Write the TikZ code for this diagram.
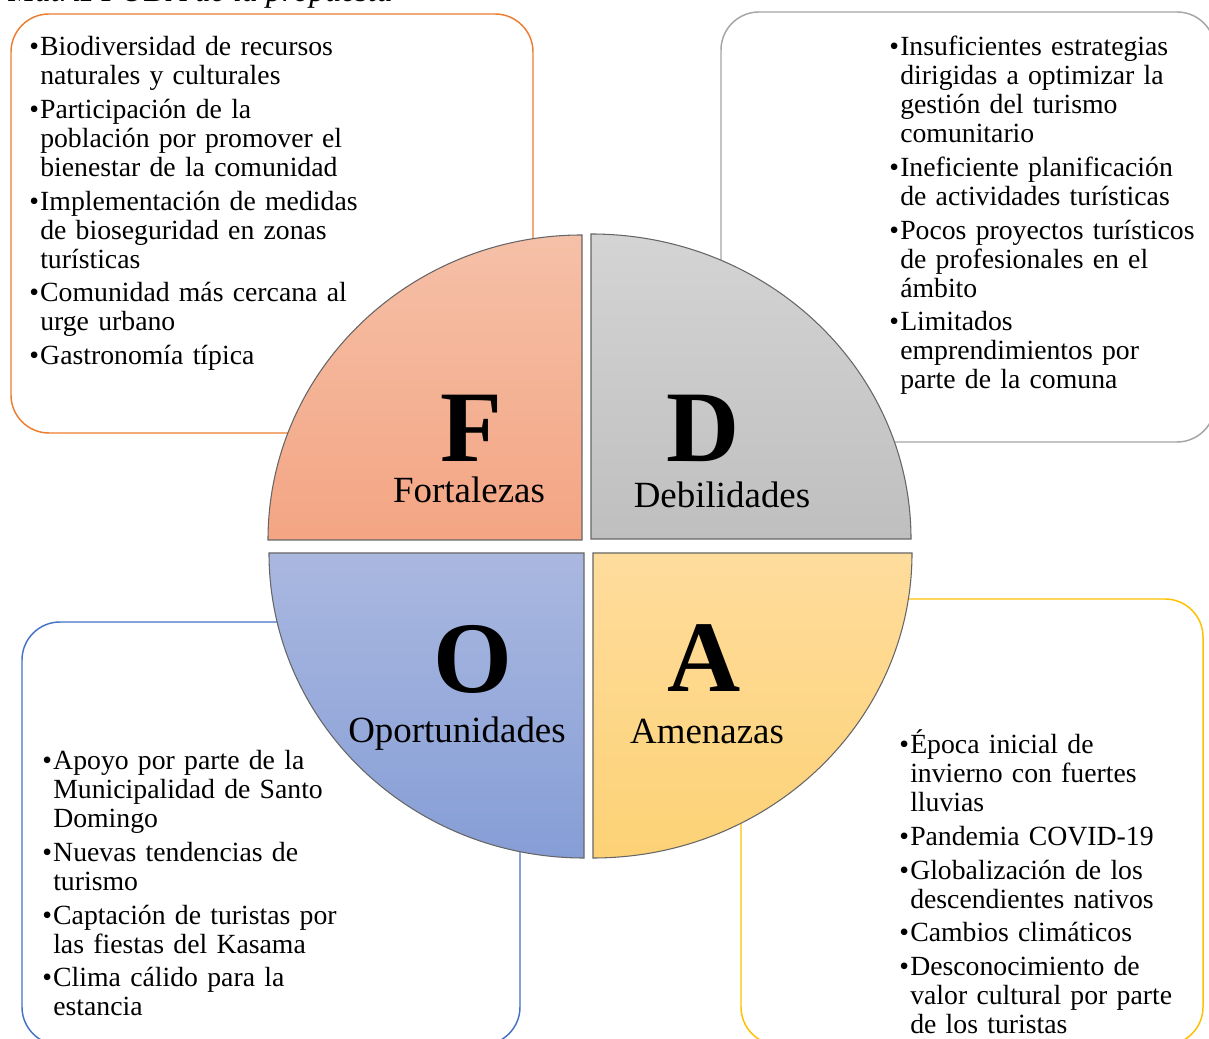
\documentclass[tikz,border=0pt]{standalone}
\usepackage{fontspec}
\setmainfont{Liberation Serif}
\definecolor{fodaorange}{HTML}{ED7D31}
\definecolor{fodagray}{HTML}{A5A5A5}
\definecolor{fodablue}{HTML}{4472C4}
\definecolor{fodagold}{HTML}{FFC000}
\definecolor{ftop}{HTML}{F5C0A8}
\definecolor{fbot}{HTML}{F4A583}
\definecolor{dtop}{HTML}{D4D4D4}
\definecolor{dbot}{HTML}{BFBFBF}
\definecolor{otop}{HTML}{AAB8E0}
\definecolor{obot}{HTML}{869ED6}
\definecolor{atop}{HTML}{FEDC9C}
\definecolor{abot}{HTML}{FDD276}
\newcommand\fodasetup{\raggedright\setlength\parskip{3.4pt}\lineskiplimit=-20pt\relax}
\newcommand\fodaitem[1]{\hangindent=8.25pt\hangafter=1\noindent\makebox[8.25pt][l]{\textbullet}#1\par}
\begin{document}
\begin{tikzpicture}[x=0.75pt,y=0.75pt,
  box/.style={line width=1.1pt,rounded corners=28.5pt},
  quad/.style={draw=black!60,line width=0.8pt},
  bigletter/.style={font=\fontsize{76}{76}\selectfont\bfseries,inner sep=0pt,anchor=base},
  quadlabel/.style={font=\fontsize{27.7}{30}\selectfont,inner sep=0pt,anchor=base},
  list/.style={inner sep=0pt,anchor=base west,text width=330pt,font=\fontsize{20.8}{21.75}\selectfont}]
\useasboundingbox (0,0) rectangle (1209,1038);
\node (title) [anchor=base west,inner sep=0pt,font=\fontsize{24}{24}\selectfont\itshape] at (8,1036.5) {Matriz FODA de la propuesta};
% boxes behind the circle
\draw[box,fodaorange] (11,605) rectangle (533,1024);
\draw[box,fodagray] (721,596) rectangle (1215,1026);
\draw[box,fodablue] (22,-7) rectangle (520,416);
\draw[box,fodagold] (741,-7) rectangle (1203,439);
% quadrants
\draw[quad,top color=ftop,bottom color=fbot] (582,498) -- ++(-314,0)
  arc[start angle=180,end angle=90,x radius=235.5pt,y radius=228.75pt] -- cycle;
\draw[quad,top color=dtop,bottom color=dbot] (591,499) -- ++(0,305)
  arc[start angle=90,end angle=0,x radius=240pt,y radius=228.75pt] -- cycle;
\draw[quad,top color=otop,bottom color=obot] (584,485) -- ++(-315,0)
  arc[start angle=180,end angle=270,x radius=236.25pt,y radius=228.75pt] -- cycle;
\draw[quad,top color=atop,bottom color=abot] (593,485) -- ++(0,-305)
  arc[start angle=270,end angle=360,x radius=239.25pt,y radius=228.75pt] -- cycle;
\node (fletter) [bigletter] at (471,576) {F};
\node (flabel) [quadlabel] at (469,535) {Fortalezas};
\node (dletter) [bigletter] at (703,576) {D};
\node (dlabel) [quadlabel] at (722,530) {Debilidades};
\node (oletter) [bigletter] at (473,345) {O};
\node (olabel) [quadlabel] at (457,295) {Oportunidades};
\node (aletter) [bigletter] at (704,346) {A};
\node (alabel) [quadlabel] at (707,294) {Amenazas};
% lists
\node (ftext) [list] at (29,982) {\fodasetup
  \fodaitem{Biodiversidad de recursos\newline naturales y culturales}
  \fodaitem{Participación de la\newline población por promover el\newline bienestar de la comunidad}
  \fodaitem{Implementación de medidas\newline de bioseguridad en zonas\newline turísticas}
  \fodaitem{Comunidad más cercana al\newline urge urbano}
  \fodaitem{Gastronomía típica}};
\node (dtext) [list] at (889,982) {\fodasetup
  \fodaitem{Insuficientes estrategias\newline dirigidas a optimizar la\newline gestión del turismo\newline comunitario}
  \fodaitem{Ineficiente planificación\newline de actividades turísticas}
  \fodaitem{Pocos proyectos turísticos\newline de profesionales en el\newline ámbito}
  \fodaitem{Limitados\newline emprendimientos por\newline parte de la comuna}};
\node (otext) [list] at (42,268) {\fodasetup
  \fodaitem{Apoyo por parte de la\newline Municipalidad de Santo\newline Domingo}
  \fodaitem{Nuevas tendencias de\newline turismo}
  \fodaitem{Captación de turistas por\newline las fiestas del Kasama}
  \fodaitem{Clima cálido para la\newline estancia}};
\node (atext) [list] at (899,284) {\fodasetup
  \fodaitem{Época inicial de\newline invierno con fuertes\newline lluvias}
  \fodaitem{Pandemia COVID-19}
  \fodaitem{Globalización de los\newline descendientes nativos}
  \fodaitem{Cambios climáticos}
  \fodaitem{Desconocimiento de\newline valor cultural por parte\newline de los turistas}};
\end{tikzpicture}
\end{document}
